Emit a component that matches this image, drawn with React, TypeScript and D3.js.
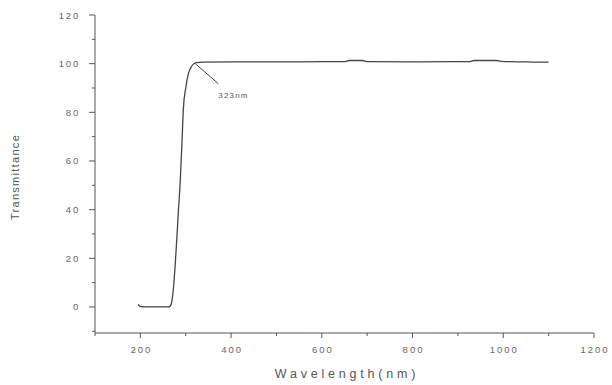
import React, { useEffect, useRef } from "react";
import * as d3 from "d3";

// transmittance spectrum
const wavelength = [195, 200, 210, 230, 250, 262, 266, 270, 273, 277, 281, 284, 288, 292, 295, 300, 306, 312, 317, 323, 340, 400, 500, 600, 650, 660, 690, 700, 800, 900, 925, 935, 985, 995, 1050, 1100];
const transmittance = [1.0, 0.2, 0, 0, 0, 0, 0.4, 3, 8, 18, 30, 40, 52, 69, 82, 90, 96, 98.6, 99.8, 100.4, 100.6, 100.7, 100.7, 100.8, 100.8, 101.3, 101.3, 100.8, 100.7, 100.8, 100.8, 101.3, 101.3, 100.9, 100.7, 100.6];
const xTicks = [200, 400, 600, 800, 1000, 1200];
const yTicks = [0, 20, 40, 60, 80, 100, 120];
const peakLabel = "323nm";
const peakAt = 321;

const W = 612;
const H = 385;

const App = () => {
  const ref = useRef<SVGSVGElement>(null);

  useEffect(() => {
    if (!ref.current) return;
    const svg = d3.select(ref.current);
    svg.selectAll("*").remove();

    const x = d3.scaleLinear().domain([100, 1200]).range([95, 594]);
    const y = d3.scaleLinear().domain([-10.7, 120]).range([333, 15]);
    const ink = "#555";
    const labelInk = "#666";

    // y axis
    const yAxis = svg.append("g").attr("transform", `translate(${x(100)},0)`);
    yAxis.append("line").attr("y1", y(120)).attr("y2", y(-10.7)).attr("stroke", ink);
    d3.range(-10, 121, 10).forEach((v) => {
      const major = v % 20 === 0;
      yAxis.append("line")
        .attr("x1", major ? -6 : -3).attr("x2", 0)
        .attr("y1", y(v)).attr("y2", y(v))
        .attr("stroke", ink);
    });
    yAxis.selectAll("text.tick")
      .data(yTicks)
      .enter()
      .append("text")
      .attr("x", -15)
      .attr("y", (d) => y(d) + 3.5)
      .attr("text-anchor", "end")
      .attr("font-size", 9.5)
      .attr("letter-spacing", 1.8)
      .attr("fill", labelInk)
      .text((d) => d);

    // x axis
    const xAxis = svg.append("g").attr("transform", `translate(0,${y(-10.7)})`);
    xAxis.append("line").attr("x1", x(100)).attr("x2", x(1200)).attr("stroke", ink);
    d3.range(100, 1201, 100).forEach((v) => {
      const major = v % 200 === 0;
      xAxis.append("line")
        .attr("x1", x(v)).attr("x2", x(v))
        .attr("y1", 0).attr("y2", major ? 5 : 3)
        .attr("stroke", ink);
    });
    xAxis.selectAll("text.tick")
      .data(xTicks)
      .enter()
      .append("text")
      .attr("x", (d) => x(d) + 1)
      .attr("y", 19.5)
      .attr("text-anchor", "middle")
      .attr("font-size", 9.5)
      .attr("letter-spacing", 2)
      .attr("fill", labelInk)
      .text((d) => d);

    // axis titles
    svg.append("text")
      .attr("x", 347)
      .attr("y", 378)
      .attr("text-anchor", "middle")
      .attr("font-size", 12.5)
      .attr("letter-spacing", 3.8)
      .attr("fill", ink)
      .text("Wavelength(nm)");
    svg.append("text")
      .attr("transform", "translate(19,177) rotate(-90)")
      .attr("text-anchor", "middle")
      .attr("font-size", 11)
      .attr("letter-spacing", 1.3)
      .attr("fill", ink)
      .text("Transmittance");

    // curve
    const pts = wavelength.map((w, i) => [w, transmittance[i]] as [number, number]);
    const line = d3.line<[number, number]>()
      .x((d) => x(d[0]))
      .y((d) => y(d[1]))
      .curve(d3.curveMonotoneX);
    svg.append("path")
      .datum(pts)
      .attr("fill", "none")
      .attr("stroke", "#444")
      .attr("stroke-width", 1.3)
      .attr("d", line);

    // peak annotation
    svg.append("line")
      .attr("x1", x(peakAt)).attr("y1", y(100))
      .attr("x2", x(peakAt) + 23).attr("y2", y(100) + 20)
      .attr("stroke", "#444");
    svg.append("text")
      .attr("x", x(peakAt) + 23)
      .attr("y", y(100) + 34)
      .attr("font-size", 8)
      .attr("letter-spacing", 1.2)
      .attr("fill", ink)
      .text(peakLabel);
  }, []);

  return (
    <svg
      ref={ref}
      width={W}
      height={H}
      style={{ position: "absolute", left: 0, top: 0, background: "#fff", fontFamily: "'Liberation Sans', Arial, sans-serif" }}
    />
  );
};

export default App;
